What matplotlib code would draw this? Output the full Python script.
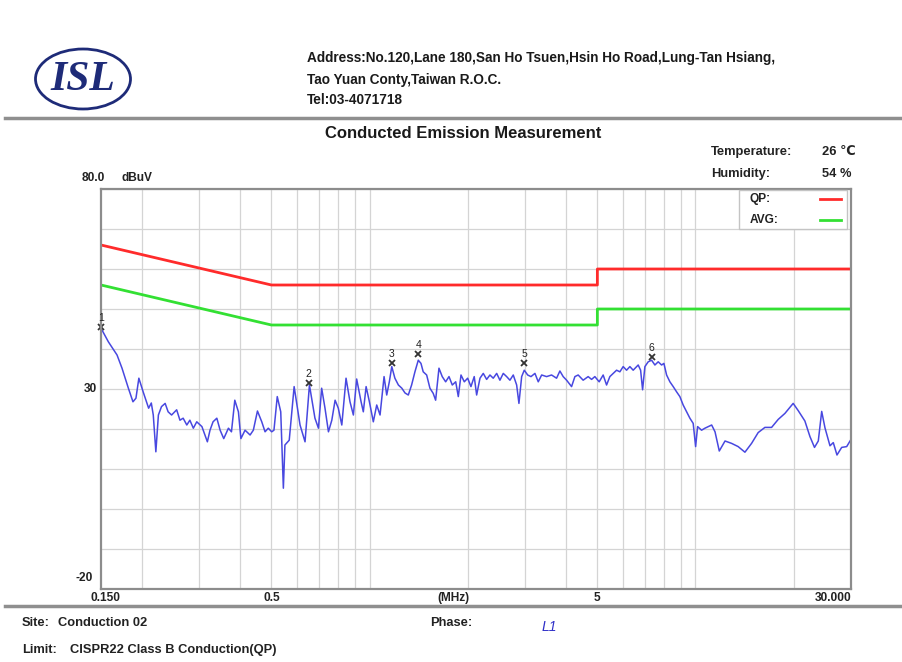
import matplotlib
matplotlib.use('Agg')
import matplotlib.pyplot as plt
from matplotlib.patches import Ellipse, Rectangle
from matplotlib.lines import Line2D
from matplotlib.ticker import LogLocator, NullLocator

plt.rcParams['font.family'] = ['Liberation Sans', 'DejaVu Sans']

freq_mhz = [
    0.150, 0.158, 0.168, 0.174, 0.182, 0.188, 0.192, 0.196, 0.202, 0.210,
    0.214, 0.217, 0.221, 0.225, 0.230, 0.236, 0.241, 0.247, 0.256, 0.262,
    0.268, 0.275, 0.281, 0.288, 0.295, 0.306, 0.318, 0.324, 0.331, 0.340,
    0.348, 0.357, 0.369, 0.377, 0.386, 0.396, 0.403, 0.415, 0.430, 0.440,
    0.453, 0.467, 0.478, 0.489, 0.501, 0.509, 0.521, 0.534, 0.544, 0.550,
    0.567, 0.587, 0.612, 0.634, 0.654, 0.680, 0.697, 0.713, 0.730, 0.748,
    0.766, 0.784, 0.802, 0.822, 0.847, 0.871, 0.892, 0.913, 0.942, 0.957,
    0.976, 0.999, 1.027, 1.052, 1.077, 1.108, 1.129, 1.150, 1.170, 1.196,
    1.226, 1.256, 1.285, 1.315, 1.346, 1.378, 1.411, 1.438, 1.461, 1.497,
    1.532, 1.568, 1.595, 1.633, 1.671, 1.712, 1.753, 1.794, 1.838, 1.872,
    1.908, 1.953, 2.000, 2.047, 2.095, 2.131, 2.182, 2.233, 2.287, 2.341,
    2.396, 2.455, 2.512, 2.572, 2.634, 2.696, 2.760, 2.827, 2.873, 2.929,
    2.983, 3.056, 3.128, 3.217, 3.293, 3.373, 3.493, 3.618, 3.748, 3.837,
    3.927, 4.023, 4.167, 4.266, 4.366, 4.522, 4.685, 4.800, 4.912, 5.064,
    5.209, 5.336, 5.461, 5.591, 5.727, 5.862, 6.000, 6.146, 6.291, 6.439,
    6.672, 6.786, 6.882, 6.995, 7.160, 7.334, 7.507, 7.684, 7.871, 8.000,
    8.154, 8.346, 8.544, 8.749, 8.955, 9.166, 9.390, 9.612, 9.839, 10.01,
    10.15, 10.44, 10.69, 10.94, 11.21, 11.48, 11.83, 12.32, 12.91, 13.52,
    14.18, 14.86, 15.57, 16.33, 17.12, 17.94, 18.81, 19.94, 20.66, 21.66,
    22.45, 23.18, 23.81, 24.39, 24.96, 25.86, 26.47, 27.17, 28.09, 29.10,
    30.00,
]
level_dbuv = [
    45.2, 41.8, 38.5, 35.2, 30.2, 26.8, 27.7, 32.7, 29.3, 25.2,
    26.5, 23.5, 14.3, 23.5, 25.6, 26.4, 24.3, 23.5, 24.8, 22.2,
    22.7, 21.0, 22.2, 20.2, 21.8, 20.6, 16.8, 19.7, 21.8, 22.7,
    19.7, 17.6, 20.2, 19.3, 27.2, 24.3, 17.6, 19.7, 18.5, 19.7,
    24.5, 21.8, 19.3, 20.2, 19.3, 19.7, 28.1, 24.3, 5.2, 16.0,
    17.2, 30.6, 21.0, 16.8, 31.0, 22.7, 20.2, 30.2, 25.2, 19.3,
    22.2, 27.2, 25.2, 21.0, 32.7, 26.8, 23.5, 32.5, 26.8, 24.3,
    30.6, 26.8, 21.8, 26.0, 23.5, 33.1, 28.5, 31.8, 35.6, 32.7,
    31.0, 30.2, 29.0, 28.5, 31.0, 34.3, 37.2, 36.4, 34.3, 33.5,
    30.2, 28.9, 27.2, 35.2, 33.1, 31.8, 33.1, 31.0, 31.8, 28.1,
    33.5, 31.8, 32.7, 30.6, 33.1, 28.5, 32.7, 33.9, 32.4, 33.5,
    32.7, 33.9, 32.2, 33.9, 33.1, 32.2, 33.5, 31.0, 26.4, 33.1,
    34.7, 33.5, 33.1, 33.9, 31.8, 33.5, 33.1, 33.5, 32.7, 34.5,
    33.1, 32.2, 30.6, 33.1, 33.5, 32.2, 33.1, 32.4, 33.1, 31.8,
    33.5, 31.0, 33.1, 33.9, 34.7, 34.3, 35.6, 34.7, 35.6, 34.7,
    36.0, 34.7, 29.8, 35.6, 36.8, 37.2, 36.0, 36.8, 36.0, 36.4,
    33.5, 31.8, 30.6, 29.3, 28.1, 26.0, 24.3, 22.7, 21.4, 15.6,
    20.6, 19.7, 20.2, 20.6, 21.0, 19.3, 14.5, 17.0, 16.4, 15.6,
    14.2, 16.4, 19.1, 20.4, 20.4, 22.4, 23.9, 26.4, 24.6, 22.0,
    18.1, 15.4, 17.0, 24.4, 20.3, 15.8, 16.6, 13.5, 15.4, 15.6,
    17.4,
]

# CISPR22 class B limit lines
limit_freq = [0.15, 0.5, 5.0, 5.0, 30.0]
qp_limit = [66, 56, 56, 60, 60]
avg_limit = [56, 46, 46, 50, 50]

# peak markers 1..6
marker_freq = [0.150, 0.650, 1.170, 1.411, 2.983, 7.334]
marker_level = [45.5, 31.5, 36.5, 38.7, 36.4, 38.0]

x_tick_vals = [0.15, 0.5, 5, 30]
x_tick_text = ['0.150', '0.5', '5', '30.000']

W, H = 902, 662


def fx(x):
    return x / W


def fy(y):
    return 1 - y / H


fig = plt.figure(figsize=(9.02, 6.62), dpi=100)
ax = fig.add_axes([fx(101), fy(589), 750 / W, 400 / H])

ax.set_xscale('log')
ax.set_xlim(0.15, 30)
ax.set_ylim(-20, 80)
ax.xaxis.set_major_locator(LogLocator(base=10, subs=range(1, 10)))
ax.xaxis.set_minor_locator(NullLocator())
ax.set_yticks(range(-20, 81, 10))
ax.tick_params(which='both', length=0, labelbottom=False, labelleft=False)
ax.grid(True, color='#d4d4d4', lw=0.9)
for s in ax.spines.values():
    s.set_color('#8c8c8c')
    s.set_linewidth(1.6)

ax.plot(limit_freq, qp_limit, color='#ff2b2b', lw=2)
ax.plot(limit_freq, avg_limit, color='#33e033', lw=2)
ax.plot(freq_mhz, level_dbuv, color='#4848e0', lw=1.1)

for i, (f, l) in enumerate(zip(marker_freq, marker_level)):
    ax.plot(f, l, 'x', color='#333333', ms=5, mew=1.3, clip_on=False)
    ax.annotate(str(i + 1), (f, l), xytext=(0, 3), textcoords='offset points',
                ha='center', va='bottom', fontsize=7.5, color='#222222')

# axis labels as plain text like the report
lab = dict(fontsize=9.3, weight='bold', color='#222222')
tck = dict(fontsize=8.6, weight='bold', color='#222222')
for v, t in zip(x_tick_vals, x_tick_text):
    xf = ax.transData.transform((v, 0))[0] / W
    ha = 'center'
    if t == '30.000':
        ha = 'right'
        xf += 1 / W
    if t == '0.150':
        xf += 4 / W
    fig.text(xf, fy(598), t, ha=ha, va='center', **tck)
fig.text(fx(453), fy(598), '(MHz)', ha='center', va='center', **tck)
fig.text(fx(105), fy(178), '80.0', ha='right', va='center', **tck)
fig.text(fx(122), fy(178), 'dBuV', ha='left', va='center', **tck)
fig.text(fx(97), fy(389), '30', ha='right', va='center', **tck)
fig.text(fx(93), fy(578), '-20', ha='right', va='center', **tck)

# legend box
fig.add_artist(Rectangle((fx(739), fy(229)), 108 / W, 39 / H, transform=fig.transFigure,
                         facecolor='white', edgecolor='#c4c4c4', lw=1, zorder=5))
fig.text(fx(750), fy(199), 'QP:', ha='left', va='center', zorder=6, **tck)
fig.text(fx(750), fy(220), 'AVG:', ha='left', va='center', zorder=6, **tck)
fig.add_artist(Line2D([fx(820), fx(841)], [fy(199), fy(199)], color='#ff2b2b', lw=2, zorder=6))
fig.add_artist(Line2D([fx(820), fx(841)], [fy(220), fy(220)], color='#33e033', lw=2, zorder=6))

# header
fig.add_artist(Ellipse((fx(83), fy(79)), 95 / W, 60 / H, transform=fig.transFigure,
                       fill=False, edgecolor='#1e2b78', lw=2))
fig.text(fx(83), fy(80), 'ISL', ha='center', va='center', fontsize=30, weight='bold',
         style='italic', family=['Liberation Serif', 'DejaVu Serif'], color='#1e2b78')
hdr = dict(fontsize=9.8, weight='bold', color='#1a1a1a', ha='left', va='center')
fig.text(fx(307), fy(58), 'Address:No.120,Lane 180,San Ho Tsuen,Hsin Ho Road,Lung-Tan Hsiang,', **hdr)
fig.text(fx(307), fy(80), 'Tao Yuan Conty,Taiwan R.O.C.', **hdr)
fig.text(fx(307), fy(100), 'Tel:03-4071718', **hdr)
fig.add_artist(Line2D([fx(5), 1], [fy(118), fy(118)], color='#8f8f8f', lw=2.5))

fig.text(fx(463), fy(133), 'Conducted Emission Measurement', ha='center', va='center',
         fontsize=12, weight='bold', color='#1a1a1a')
fig.text(fx(711), fy(152), 'Temperature:', ha='left', va='center', **lab)
fig.text(fx(822), fy(152), '26 ℃', ha='left', va='center', **lab)
fig.text(fx(711), fy(174), 'Humidity:', ha='left', va='center', **lab)
fig.text(fx(822), fy(174), '54 %', ha='left', va='center', **lab)

# footer
fig.add_artist(Line2D([fx(5), 1], [fy(606), fy(606)], color='#8f8f8f', lw=2.5))
fig.text(fx(22), fy(623), 'Site:', ha='left', va='center', **lab)
fig.text(fx(58), fy(623), 'Conduction 02', ha='left', va='center', **lab)
fig.text(fx(430), fy(623), 'Phase:', ha='left', va='center', **lab)
fig.text(fx(542), fy(627), 'L1', ha='left', va='center', fontsize=10, style='italic',
         color='#3030c8')
fig.text(fx(22), fy(650), 'Limit:', ha='left', va='center', **lab)
fig.text(fx(70), fy(650), 'CISPR22 Class B Conduction(QP)', ha='left', va='center', **lab)

fig.savefig('out.png', dpi=100)
